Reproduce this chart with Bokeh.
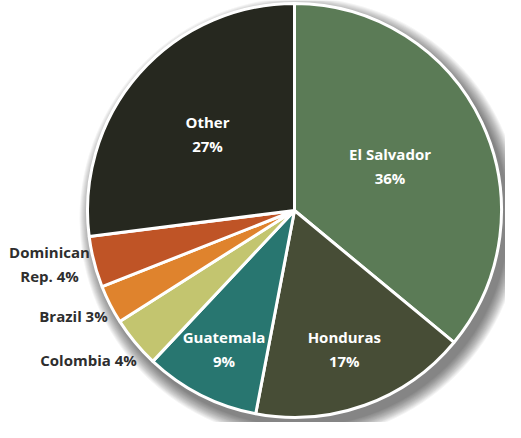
import math
from bokeh.plotting import figure
from bokeh.models import ColumnDataSource
from bokeh.core.properties import value
from bokeh.embed import file_html
from bokeh.resources import INLINE

countries = ["El Salvador", "Honduras", "Guatemala", "Colombia", "Brazil", "Dominican Rep.", "Other"]
shares = [36, 17, 9, 4, 3, 4, 27]
colors = ["#5b7b56", "#474d36", "#287670", "#c3c56f", "#df832d", "#bf5426", "#26281f"]
label_texts = ["El Salvador\n36%", "Honduras\n17%", "Guatemala\n9%", "Colombia 4%", "Brazil 3%", "Dominican\nRep. 4%", "Other\n27%"]

W, H = 505, 422
cx, cy = 294, H - 210
R = 207

p = figure(width=W, height=H, x_range=(0, W), y_range=(0, H), output_backend="svg",
           toolbar_location=None, min_border=0)
p.axis.visible = False
p.grid.visible = False
p.outline_line_color = None
p.background_fill_color = "white"

# soft drop shadow (lower right)
for k in range(14):
    p.circle(x=[cx + 6], y=[cy - 8], radius=R + 14 - k, fill_color="#000000",
             fill_alpha=0.045, line_color=None)

total = sum(shares)
starts, ends = [], []
acc = 0
for s in shares:
    a0 = math.pi / 2 - 2 * math.pi * acc / total
    acc += s
    a1 = math.pi / 2 - 2 * math.pi * acc / total
    starts.append(a0)
    ends.append(a1)

src = ColumnDataSource(dict(start=starts, end=ends, color=colors))
p.wedge(x=cx, y=cy, radius=R, start_angle="start", end_angle="end", direction="clock",
        fill_color="color", line_color="white", line_width=3, source=src)

# inside labels (fraction of radius along the slice's mid-angle)
inside = {0: 0.51, 1: 0.71, 2: 0.75, 6: 0.56}
for i, f in inside.items():
    mid = (starts[i] + ends[i]) / 2
    x = cx + f * R * math.cos(mid)
    y = cy + f * R * math.sin(mid)
    p.text(x=[x], y=[y], text=[label_texts[i]], text_color="white", text_font=value("Open Sans"),
           text_font_style="bold", text_font_size="15px", text_align="center",
           text_baseline="middle", text_line_height=1.2)

# outside labels (figure pixel positions, centre of text)
outside = {3: (88, 359), 4: (73, 315), 5: (49, 263)}
for i, (px, py) in outside.items():
    p.text(x=[px], y=[H - py], text=[label_texts[i]], text_color="#2e2e2e",
           text_font=value("Open Sans"), text_font_style="bold", text_font_size="15px",
           text_align="center", text_baseline="middle", text_line_height=1.2)

open("out.html", "w").write(file_html(p, INLINE))
